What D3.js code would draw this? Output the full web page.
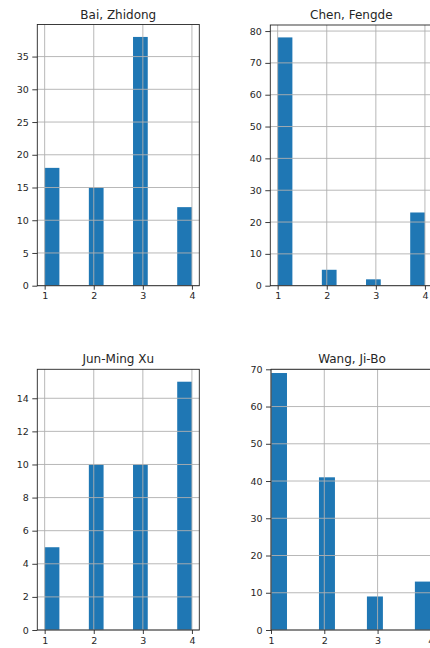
<!DOCTYPE html>
<html>
<head>
<meta charset="utf-8">
<script src="https://cdn.jsdelivr.net/npm/d3@7"></script>
<style>
  body { margin: 0; background: #fff; }
  svg { display: block; font-family: "DejaVu Sans", sans-serif; }
</style>
</head>
<body>
<div id="chart"></div>
<script>
// rating values on the x axis and per-author counts
var ratings = [1, 2, 3, 4];
var authors = ["Bai, Zhidong", "Chen, Fengde", "Jun-Ming Xu", "Wang, Ji-Bo"];
var countsBai = [18, 15, 38, 12];
var countsChen = [78, 5, 2, 23];
var countsXu = [5, 10, 10, 15];
var countsWang = [69, 41, 9, 13];
var yTickSteps = [5, 10, 2, 10];
var xTickLabels = ["1", "2", "3", "4"];

var allCounts = [countsBai, countsChen, countsXu, countsWang];

// 10 equal bins between min and max rating (like pandas .hist())
var nBins = 10;
var lo = d3.min(ratings), hi = d3.max(ratings);
var binW = (hi - lo) / nBins;

var W = 430, H = 648;
var svg = d3.select("#chart").append("svg")
    .attr("width", W)
    .attr("height", H);

// axes boxes: left, right, top, bottom
var boxes = [
    {l: 37.3, r: 199.3, t: 24.5, b: 285.7, xd: [0.85, 4.15], ymax: null},
    {l: 270.3, r: 432.3, t: 25, b: 285.7, xd: [0.85, 4.15], ymax: null},
    {l: 37.3, r: 199.3, t: 369.3, b: 630, xd: [0.85, 4.15], ymax: null},
    {l: 271, r: 433, t: 369.3, b: 630, xd: [1, 4.04], ymax: 70}
];

var gridColor = "#b0b0b0";
var textColor = "#262626";

authors.forEach(function(name, k){
    var box = boxes[k];
    var counts = allCounts[k];
    var ymax = box.ymax || d3.max(counts) * 1.05;

    var x = d3.scaleLinear().domain(box.xd).range([box.l, box.r]);
    var y = d3.scaleLinear().domain([0, ymax]).range([box.b, box.t]);

    var g = svg.append("g");

    // bars
    var bars = ratings.map(function(v, i){
        var idx = Math.min(Math.floor((v - lo) / binW), nBins - 1);
        return {x0: lo + idx * binW, x1: lo + (idx + 1) * binW, n: counts[i]};
    });
    g.selectAll(".bar")
        .data(bars)
        .enter()
        .append("rect")
        .attr("class", "bar")
        .attr("x", function(d){ return x(d.x0); })
        .attr("width", function(d){ return x(d.x1) - x(d.x0); })
        .attr("y", function(d){ return y(d.n); })
        .attr("height", function(d){ return y(0) - y(d.n); })
        .style("fill", "#1f77b4");

    var yTicks = d3.range(0, ymax + 1e-9, yTickSteps[k]);

    // grid on top of bars (matplotlib default zorder)
    g.selectAll(".vgrid")
        .data(ratings)
        .enter()
        .append("line")
        .attr("x1", function(d){ return x(d); })
        .attr("x2", function(d){ return x(d); })
        .attr("y1", box.t)
        .attr("y2", box.b)
        .style("stroke", gridColor)
        .style("stroke-width", 0.9);
    g.selectAll(".hgrid")
        .data(yTicks)
        .enter()
        .append("line")
        .attr("x1", box.l)
        .attr("x2", box.r)
        .attr("y1", function(d){ return y(d); })
        .attr("y2", function(d){ return y(d); })
        .style("stroke", gridColor)
        .style("stroke-width", 0.9);

    // axes
    var xAxis = d3.axisBottom(x)
        .tickValues(ratings)
        .tickFormat(function(d, i){ return xTickLabels[i]; })
        .tickSize(4)
        .tickPadding(3);
    var yAxis = d3.axisLeft(y)
        .tickValues(yTicks)
        .tickSize(5)
        .tickPadding(3.5);

    var gx = g.append("g")
        .attr("transform", "translate(0," + box.b + ")")
        .call(xAxis);
    var gy = g.append("g")
        .attr("transform", "translate(" + box.l + ",0)")
        .call(yAxis);
    [gx, gy].forEach(function(a){
        a.select(".domain").remove();
        a.selectAll(".tick line").style("stroke", textColor).style("stroke-width", 0.9);
        a.selectAll(".tick text")
            .style("fill", textColor)
            .style("font-size", "9.5px")
            .style("font-family", "DejaVu Sans");
    });

    // spines
    g.append("rect")
        .attr("x", box.l)
        .attr("y", box.t)
        .attr("width", box.r - box.l)
        .attr("height", box.b - box.t)
        .style("fill", "none")
        .style("stroke", textColor)
        .style("stroke-width", 0.9);

    // title
    g.append("text")
        .attr("x", (box.l + box.r) / 2)
        .attr("y", box.t - 6)
        .attr("text-anchor", "middle")
        .style("font-size", "12px")
        .style("fill", textColor)
        .text(name);
});
</script>
</body>
</html>
